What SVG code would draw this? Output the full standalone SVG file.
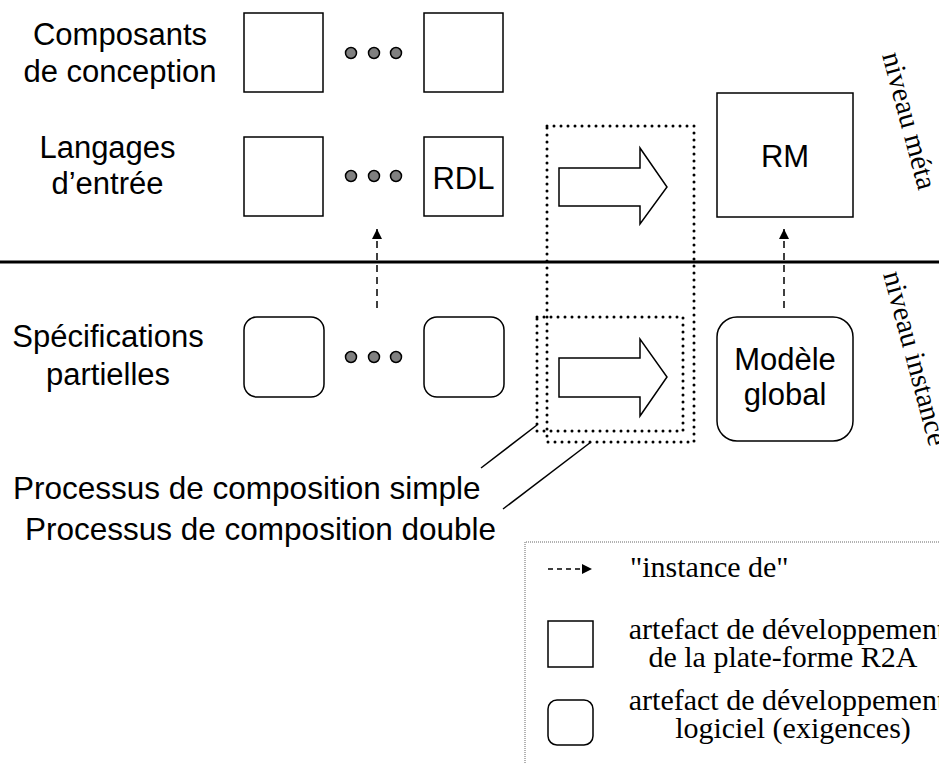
<svg xmlns="http://www.w3.org/2000/svg" width="939" height="763" viewBox="0 0 939 763">
<style>
.box{fill:#fff;stroke:#000;stroke-width:1.5}
.dot{fill:#808080;stroke:#000;stroke-width:1.5}
.lbl{font-family:"Liberation Sans",Arial,sans-serif;font-size:31px;fill:#000}
.ser{font-family:"Liberation Serif","Times New Roman",serif;font-size:29px;fill:#000}
.dash{fill:none;stroke:#000;stroke-width:1.5;stroke-dasharray:7 5}
.dotted{fill:none;stroke:#000;stroke-width:3;stroke-dasharray:0 7;stroke-linecap:round}
.blk{fill:#fff;stroke:#000;stroke-width:1.5;stroke-linejoin:miter}
</style>
<defs>
<marker id="ah" viewBox="0 0 10 10" refX="10" refY="5" markerWidth="10" markerHeight="10" markerUnits="userSpaceOnUse" orient="auto">
<path d="M0,0 L10,5 L0,10 Z" fill="#000"/>
</marker>
</defs>
<rect width="939" height="763" fill="#fff"/>

<g id="labels">
<text class="lbl" x="120" y="45" text-anchor="middle">Composants</text>
<text class="lbl" x="120" y="82" text-anchor="middle">de conception</text>
<text class="lbl" x="107.5" y="158" text-anchor="middle">Langages</text>
<text class="lbl" x="107.5" y="194" text-anchor="middle">d’entrée</text>
<text class="lbl" x="108" y="347" text-anchor="middle">Spécifications</text>
<text class="lbl" x="108" y="385" text-anchor="middle">partielles</text>
<text class="lbl" x="13" y="499" style="font-size:31.5px">Processus de composition simple</text>
<text class="lbl" x="25" y="540" style="font-size:31.5px">Processus de composition double</text>
<text class="ser" transform="translate(882,55) rotate(75)">niveau méta</text>
<text class="ser" transform="translate(883,274) rotate(75)">niveau instance</text>
</g>

<line x1="0" y1="262" x2="939" y2="262" stroke="#000" stroke-width="3"/>

<g id="comp1"><rect class="box" x="244" y="13" width="79" height="79"/></g>
<g id="comp-dots"><circle class="dot" cx="351" cy="53" r="5.5"/><circle class="dot" cx="374" cy="53" r="5.5"/><circle class="dot" cx="396" cy="53" r="5.5"/></g>
<g id="comp2"><rect class="box" x="424" y="13" width="79" height="79"/></g>

<g id="lang1"><rect class="box" x="244" y="137" width="79" height="79"/></g>
<g id="lang-dots"><circle class="dot" cx="351" cy="176" r="5.5"/><circle class="dot" cx="374" cy="176" r="5.5"/><circle class="dot" cx="396" cy="176" r="5.5"/></g>
<g id="rdl"><rect class="box" x="424" y="137" width="79" height="79"/><text class="lbl" x="463.5" y="189" text-anchor="middle">RDL</text></g>

<g id="rm"><rect class="box" x="717" y="93" width="136" height="124"/><text class="lbl" x="785" y="167" text-anchor="middle">RM</text></g>

<g id="spec1"><rect class="box" x="244" y="317" width="80" height="80" rx="13"/></g>
<g id="spec-dots"><circle class="dot" cx="351" cy="357" r="5.5"/><circle class="dot" cx="374" cy="357" r="5.5"/><circle class="dot" cx="396" cy="357" r="5.5"/></g>
<g id="spec2"><rect class="box" x="424" y="317" width="80" height="80" rx="13"/></g>

<g id="global"><rect class="box" x="717" y="317" width="136" height="124" rx="20"/><text class="lbl" x="785" y="370" text-anchor="middle">Modèle</text><text class="lbl" x="785" y="405" text-anchor="middle">global</text></g>

<g id="proc-double">
<rect class="dotted" x="547" y="126" width="147" height="316"/>
<path class="blk" d="M559,168 L640,168 L640,148 L667,187 L640,224 L640,206 L559,206 Z"/>
</g>
<g id="proc-simple">
<rect class="dotted" x="537" y="317" width="146" height="114"/>
<path class="blk" d="M559,358 L640,358 L640,339 L667,377 L640,416 L640,397 L559,397 Z"/>
</g>

<g id="connectors">
<line class="dash" x1="377" y1="308" x2="377" y2="229" marker-end="url(#ah)"/>
<line class="dash" x1="784" y1="308" x2="784" y2="229" marker-end="url(#ah)"/>
<line x1="481" y1="468" x2="537" y2="425" stroke="#000" stroke-width="1.5"/>
<line x1="503" y1="509" x2="591" y2="442" stroke="#000" stroke-width="1.5"/>
</g>

<g id="legend">
<path d="M525,763 L525,542 L939,542" fill="none" stroke="#666" stroke-width="1" stroke-dasharray="1 1"/>
<line x1="548" y1="569" x2="592" y2="569" stroke="#000" stroke-width="1.5" stroke-dasharray="5 4" marker-end="url(#ah)"/>
<text class="ser" x="630" y="577" style="font-size:30px">"instance de"</text>
<rect class="box" x="548" y="621" width="45" height="46"/>
<text class="ser" x="787" y="639" text-anchor="middle" style="font-size:30px">artefact de développement</text>
<text class="ser" x="783" y="667" text-anchor="middle" style="font-size:30px">de la plate-forme R2A</text>
<rect class="box" x="548" y="700" width="45" height="45" rx="9"/>
<text class="ser" x="787" y="710" text-anchor="middle" style="font-size:30px">artefact de développement</text>
<text class="ser" x="793" y="738" text-anchor="middle" style="font-size:30px">logiciel (exigences)</text>
</g>
</svg>
